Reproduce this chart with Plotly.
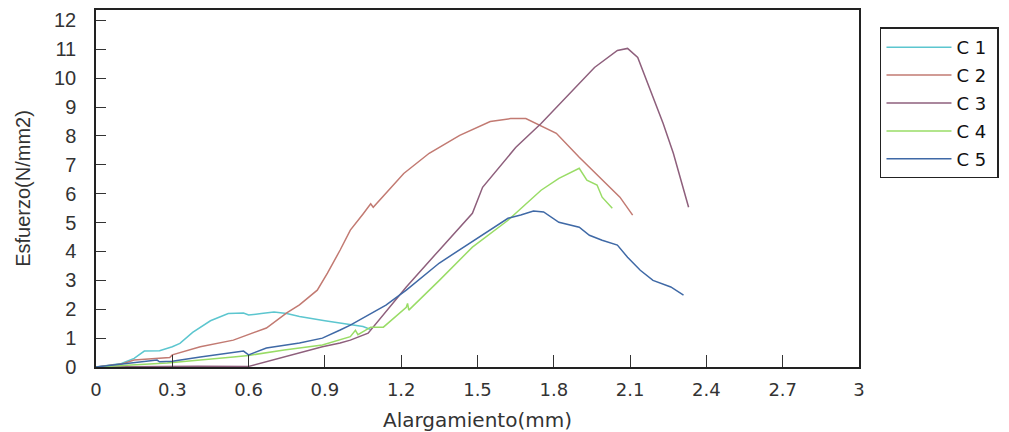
import plotly.graph_objects as go

# Data
c1_x = [0.0, 0.05, 0.10, 0.15, 0.19, 0.25, 0.30, 0.33, 0.38, 0.45, 0.52, 0.58, 0.60, 0.65, 0.70, 0.75, 0.80, 0.90, 1.00, 1.05, 1.08]
c1_y = [0.0, 0.05, 0.12, 0.30, 0.55, 0.56, 0.70, 0.82, 1.20, 1.60, 1.85, 1.87, 1.80, 1.85, 1.90, 1.85, 1.75, 1.60, 1.48, 1.40, 1.30]

c2_x = [0.0, 0.10, 0.15, 0.29, 0.30, 0.41, 0.54, 0.67, 0.75, 0.80, 0.87, 0.91, 0.96, 1.00, 1.05, 1.08, 1.09, 1.21, 1.31, 1.43, 1.55, 1.63, 1.69, 1.73, 1.81, 1.90, 1.98, 2.06, 2.11]
c2_y = [0.0, 0.10, 0.24, 0.33, 0.42, 0.70, 0.93, 1.35, 1.87, 2.15, 2.66, 3.25, 4.05, 4.74, 5.30, 5.65, 5.53, 6.70, 7.40, 8.02, 8.50, 8.60, 8.60, 8.43, 8.09, 7.26, 6.57, 5.88, 5.26]

c3_x = [0.0, 0.20, 0.40, 0.60, 0.74, 0.89, 0.96, 1.00, 1.07, 1.22, 1.36, 1.48, 1.52, 1.65, 1.75, 1.85, 1.96, 2.05, 2.09, 2.13, 2.18, 2.23, 2.27, 2.30, 2.33]
c3_y = [0.0, 0.02, 0.03, 0.02, 0.35, 0.70, 0.83, 0.93, 1.17, 2.77, 4.15, 5.32, 6.22, 7.60, 8.43, 9.34, 10.37, 10.96, 11.03, 10.72, 9.58, 8.43, 7.40, 6.47, 5.53]

c4_x = [0.0, 0.10, 0.28, 0.54, 0.60, 0.74, 0.89, 1.00, 1.02, 1.03, 1.08, 1.13, 1.22, 1.225, 1.23, 1.35, 1.48, 1.62, 1.75, 1.82, 1.90, 1.93, 1.97, 1.99, 2.03]
c4_y = [0.0, 0.05, 0.14, 0.35, 0.40, 0.59, 0.76, 1.05, 1.27, 1.12, 1.38, 1.38, 2.07, 2.20, 1.97, 3.00, 4.15, 5.08, 6.12, 6.53, 6.88, 6.47, 6.30, 5.88, 5.50]

c5_x = [0.0, 0.10, 0.15, 0.24, 0.25, 0.30, 0.41, 0.54, 0.58, 0.60, 0.67, 0.80, 0.89, 0.96, 1.00, 1.14, 1.22, 1.35, 1.50, 1.62, 1.67, 1.72, 1.76, 1.82, 1.90, 1.94, 1.99, 2.05, 2.09, 2.14, 2.19, 2.26, 2.31]
c5_y = [0.0, 0.10, 0.17, 0.24, 0.18, 0.20, 0.35, 0.52, 0.55, 0.42, 0.66, 0.83, 1.00, 1.28, 1.45, 2.14, 2.66, 3.60, 4.46, 5.15, 5.26, 5.40, 5.37, 5.01, 4.84, 4.56, 4.39, 4.22, 3.80, 3.35, 3.00, 2.77, 2.49]

names = ["C 1", "C 2", "C 3", "C 4", "C 5"]
colors = ["#5cc6cf", "#c27a72", "#8e5f7c", "#99dc66", "#3f69a6"]

x_ticks = [0, 0.3, 0.6, 0.9, 1.2, 1.5, 1.8, 2.1, 2.4, 2.7, 3]
x_tick_text = ["0", "0.3", "0.6", "0.9", "1.2", "1.5", "1.8", "2.1", "2.4", "2.7", "3"]
y_ticks = list(range(0, 13))

series = [(c1_x, c1_y), (c2_x, c2_y), (c3_x, c3_y), (c4_x, c4_y), (c5_x, c5_y)]

fig = go.Figure()
for (xs, ys), n, c in zip(series, names, colors):
    fig.add_trace(go.Scatter(x=xs, y=ys, mode="lines", name=n + "\u00a0", legendgroup=n,
                             line=dict(color=c, width=1.5)))

font_main = "Liberation Sans, Arial, sans-serif"
font_wide = "DejaVu Sans, sans-serif"

# page body has an 8px default margin: figure is sized/offset to compensate
fig.update_layout(
    width=1001, height=424,
    margin=dict(l=88, r=150, t=2, b=65, autoexpand=False),
    paper_bgcolor="white", plot_bgcolor="white",
    font=dict(family=font_main, color="#222222", size=20),
    showlegend=True,
    legend=dict(
        x=1.0275, y=0.951, xanchor="left", yanchor="top",
        bordercolor="#222222", borderwidth=1.5,
        font=dict(family=font_wide, size=18, color="#111111"),
        tracegroupgap=1.5, itemwidth=65,
        bgcolor="white",
    ),
    xaxis=dict(
        range=[0, 3], tickmode="array", tickvals=x_ticks, ticktext=x_tick_text,
        ticks="inside", ticklen=12, tickcolor="#333333", tickwidth=1,
        showgrid=False, zeroline=False, automargin=False,
        showline=True, linecolor="#222222", linewidth=1.5, mirror=True,
        tickfont=dict(family=font_wide, size=18, color="#333333"),
        ticklabelstandoff=6,
        title=dict(text="Alargamiento(mm)", font=dict(family=font_wide, size=20, color="#333333"), standoff=20),
    ),
    yaxis=dict(
        range=[0, 12.36], tickmode="array", tickvals=y_ticks,
        ticks="inside", ticklen=10, tickcolor="#333333", tickwidth=1,
        showgrid=False, zeroline=False, automargin=False,
        showline=True, linecolor="#222222", linewidth=1.5, mirror=True,
        tickfont=dict(family=font_main, size=20, color="#333333"),
        ticklabelstandoff=14,
        title=dict(text="Esfuerzo(N/mm2)", font=dict(family=font_main, size=20, color="#333333"), standoff=18),
    ),
)

fig.write_html("out.html")
